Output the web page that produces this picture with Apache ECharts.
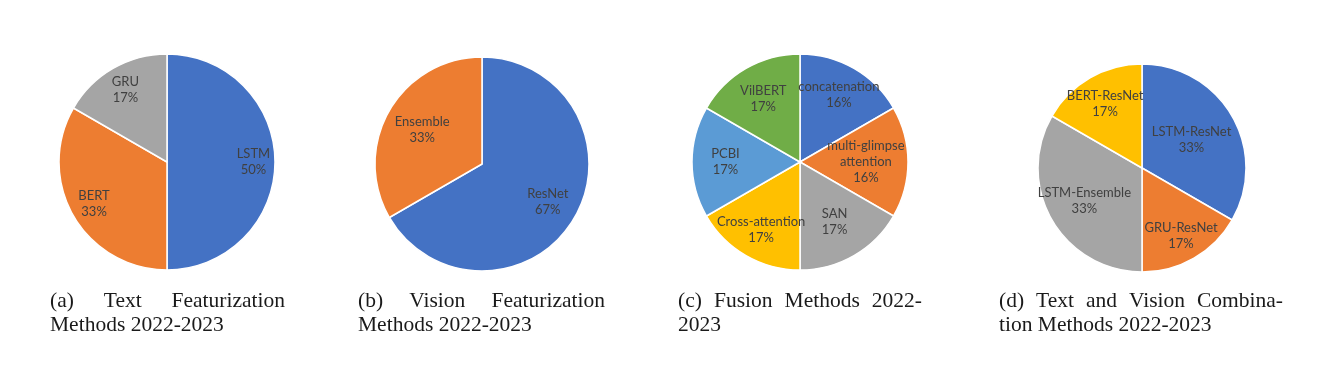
<!DOCTYPE html>
<html><head><meta charset="utf-8">
<script src="https://cdn.jsdelivr.net/npm/echarts@6/dist/echarts.min.js"></script>
<style>html,body{margin:0;padding:0;background:#fff}#c{width:1335px;height:386px}</style>
</head><body><div id="c"></div>
<script>
// ---- data ----
const textNames = ['LSTM', 'BERT', 'GRU'];
const textCounts = [3, 2, 1];
const textPct = [50, 33, 17];

const visionNames = ['ResNet', 'Ensemble'];
const visionCounts = [2, 1];
const visionPct = [67, 33];

const fusionNames = ['concatenation', 'multi-glimpse\nattention', 'SAN', 'Cross-attention', 'PCBI', 'VilBERT'];
const fusionCounts = [1, 1, 1, 1, 1, 1];
const fusionPct = [16, 16, 17, 17, 17, 17];

const comboNames = ['LSTM-ResNet', 'GRU-ResNet', 'LSTM-Ensemble', 'BERT-ResNet'];
const comboCounts = [2, 1, 2, 1];
const comboPct = [33, 17, 33, 17];

const captionLine1 = ['(a) Text Featurization', '(b) Vision Featurization', '(c) Fusion Methods 2022-', '(d) Text and Vision Combina-'];
const captionLine2 = ['Methods 2022-2023', 'Methods 2022-2023', '2023', 'tion Methods 2022-2023'];

// ---- styles / layout ----
const C = { blue: '#4472C4', orange: '#ED7D31', gray: '#A5A5A5', gold: '#FFC000', lblue: '#5B9BD5', green: '#70AD47' };
// lf: radial position of each label as a fraction of the radius (layout only)
const pies = [
  { names: textNames, counts: textCounts, pct: textPct, colors: [C.blue, C.orange, C.gray], cx: 167, cy: 162, r: 108, lf: [0.80, 0.78, 0.77] },
  { names: visionNames, counts: visionCounts, pct: visionPct, colors: [C.blue, C.orange], cx: 482, cy: 164, r: 107, lf: [0.71, 0.645] },
  { names: fusionNames, counts: fusionCounts, pct: fusionPct, colors: [C.blue, C.orange, C.gray, C.gold, C.lblue, C.green], cx: 800, cy: 162, r: 108, lf: [0.72, 0.61, 0.64, 0.72, 0.69, 0.68] },
  { names: comboNames, counts: comboCounts, pct: comboPct, colors: [C.blue, C.orange, C.gray, C.gold], cx: 1142, cy: 168, r: 104, lf: [0.55, 0.75, 0.64, 0.71] }
];
const capCols = [[50, 285], [358, 605], [678, 922], [999, 1283]];

const series = pies.map(p => ({
  type: 'pie', center: [p.cx, p.cy], radius: [0, p.r], startAngle: 90, clockwise: true,
  silent: true, avoidLabelOverlap: false,
  itemStyle: { borderColor: '#ffffff', borderWidth: 1.5 },
  label: {
    show: true, position: 'inside', color: '#404040', fontFamily: 'Lato', fontSize: 13, lineHeight: 16,
    formatter: q => p.names[q.dataIndex] + '\n' + p.pct[q.dataIndex] + '%'
  },
  labelLine: { show: false },
  labelLayout: function (params) {
    const rc = params.labelRect;
    const mx = rc.x + rc.width / 2, my = rc.y + rc.height / 2;
    const dx = mx - p.cx, dy = my - p.cy;
    const d = Math.sqrt(dx * dx + dy * dy) || 1;
    const rr = p.lf[params.dataIndex] * p.r;
    return { x: p.cx + dx / d * rr, y: p.cy + dy / d * rr };
  },
  emphasis: { disabled: true },
  data: p.names.map((n, i) => ({ name: n, value: p.counts[i], itemStyle: { color: p.colors[i] } }))
}));

// captions: first line justified, second left-aligned
const capFont = '21.5px "Liberation Serif"';
const ctx = document.createElement('canvas').getContext('2d');
ctx.font = capFont;
const graphics = [];
function textEl(t, x, y) {
  return { type: 'text', x: x, y: y, silent: true,
    style: { text: t, font: capFont, fill: '#1a1a1a', verticalAlign: 'middle', align: 'left' } };
}
captionLine1.forEach((line, k) => {
  const [x0, x1] = capCols[k];
  const words = line.split(' ');
  const widths = words.map(w => ctx.measureText(w).width);
  const total = widths.reduce((a, b) => a + b, 0);
  const gap = (x1 - x0 - total) / (words.length - 1);
  let x = x0;
  words.forEach((w, i) => { graphics.push(textEl(w, x, 301)); x += widths[i] + gap; });
  graphics.push(textEl(captionLine2[k], x0, 325));
});

const chart = echarts.init(document.getElementById('c'), null, { renderer: 'canvas' });
chart.setOption({ animation: false, backgroundColor: '#ffffff', series: series, graphic: graphics });
</script>
</body></html>
